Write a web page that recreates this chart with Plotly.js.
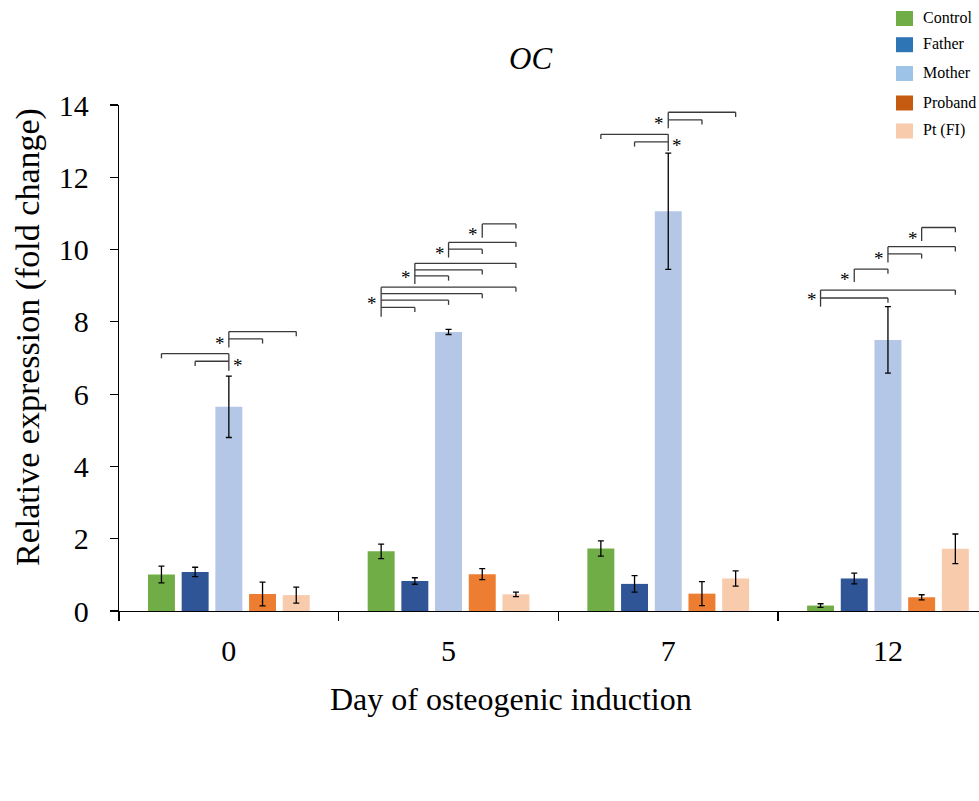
<!DOCTYPE html>
<html>
<head>
<meta charset="utf-8">
<script src="https://cdn.plot.ly/plotly-3.0.1.min.js"></script>
<style>
  html, body { margin: 0; padding: 0; background: #fff; }
  #chart { width: 979px; height: 801px; }
</style>
</head>
<body>
<div id="chart"></div>
<script>
// ---- Data ----
const days = ['0', '5', '7', '12'];
const seriesNames = ['Control', 'Father', 'Mother', 'Proband', 'Pt (FI)'];

const control    = [1.01, 1.65, 1.73, 0.15];
const controlErr = [0.23, 0.20, 0.21, 0.05];
const father     = [1.08, 0.83, 0.75, 0.90];
const fatherErr  = [0.13, 0.09, 0.23, 0.15];
const mother     = [5.65, 7.72, 11.06, 7.50];
const motherErr  = [0.85, 0.07, 1.61, 0.92];
const proband    = [0.47, 1.02, 0.48, 0.38];
const probandErr = [0.33, 0.15, 0.33, 0.07];
const ptFI       = [0.44, 0.46, 0.90, 1.72];
const ptFIErr    = [0.22, 0.06, 0.21, 0.41];

const chartTitle = 'OC';
const xTitle = 'Day of osteogenic induction';
const yTitle = 'Relative expression (fold change)';

// significance brackets: [day index, pivot series, pivot bottom, [[target series, bracket height], ...], star side, star height]
const brackets = [
  [0, 2, 6.65,  [[0, 7.12], [1, 6.91]], 1, 6.90],
  [0, 2, 7.29,  [[3, 7.53], [4, 7.73]], -1, 7.50],
  [1, 0, 8.14,  [[1, 8.40], [2, 8.60], [3, 8.78], [4, 8.96]], -1, 8.61],
  [1, 1, 9.05,  [[2, 9.27], [3, 9.44], [4, 9.62]], -1, 9.33],
  [1, 2, 9.78,  [[3, 10.01], [4, 10.20]], -1, 10.01],
  [1, 3, 10.33, [[4, 10.71]], -1, 10.52],
  [2, 2, 12.73, [[0, 13.19], [1, 12.98]], 1, 12.98],
  [2, 2, 13.36, [[3, 13.59], [4, 13.80]], -1, 13.59],
  [3, 0, 8.42,  [[2, 8.66], [4, 8.88]], -1, 8.72],
  [3, 1, 9.10,  [[2, 9.46]], -1, 9.28],
  [3, 2, 9.64,  [[3, 9.88], [4, 10.08]], -1, 9.87],
  [3, 3, 10.24, [[4, 10.61]], -1, 10.42]
];

// ---- Styles ----
const values = [control, father, mother, proband, ptFI];
const errors = [controlErr, fatherErr, motherErr, probandErr, ptFIErr];
const barColors = ['#70AD47', '#2F5597', '#B4C7E7', '#ED7D31', '#F8CBAD'];
const legendColors = ['#70AD47', '#2E75B6', '#9DC3E6', '#C55A11', '#F8CBAD'];
const FONT = 'Liberation Serif';

const W = 979, H = 801;
const M = { l: 119, r: 0, t: 105, b: 190 };
const bargap = 0.233;
const slot = (1 - bargap) / seriesNames.length;
const plotW = W - M.l - M.r, plotH = H - M.t - M.b;
const catPx = 219.7;
const xRange = [-0.5, -0.5 + plotW / catPx];

const traces = seriesNames.map((name, i) => ({
  type: 'bar',
  name: name,
  x: days,
  y: values[i],
  marker: { color: barColors[i], line: { width: 0 } },
  error_y: { type: 'data', array: errors[i], visible: true, color: '#000', thickness: 1.3, width: 3 },
  showlegend: false,
  hoverinfo: 'x+y+name'
}));

function barX(g, j) { return g + (j - 2) * slot; }

const shapes = [];
const annotations = [];
const tickDown = 0.13;
const lineStyle = { color: '#3a3a3a', width: 1.3 };

brackets.forEach(([g, p, bottom, targets, side, starY]) => {
  const px = barX(g, p);
  let top = bottom;
  targets.forEach(([t, h]) => {
    const tx = barX(g, t);
    top = Math.max(top, h);
    shapes.push({ type: 'line', xref: 'x', yref: 'y', x0: px, x1: tx, y0: h, y1: h, line: lineStyle });
    shapes.push({ type: 'line', xref: 'x', yref: 'y', x0: tx, x1: tx, y0: h, y1: h - tickDown, line: lineStyle });
  });
  shapes.push({ type: 'line', xref: 'x', yref: 'y', x0: px, x1: px, y0: bottom, y1: top, line: lineStyle });
  annotations.push({
    xref: 'x', yref: 'y', x: px, y: starY, text: '*', showarrow: false,
    xanchor: side > 0 ? 'left' : 'right', xshift: side * 2, yshift: -4,
    font: { family: FONT, size: 19, color: '#000' }
  });
});

const toPaperX = px => (px - M.l) / plotW;
const toPaperY = py => (H - M.b - py) / plotH;

// manual legend (above plot area, top right)
const legendRowsPx = [18.5, 44.7, 73.5, 103, 131];
seriesNames.forEach((name, i) => {
  const cy = legendRowsPx[i];
  shapes.push({
    type: 'rect', xref: 'paper', yref: 'paper',
    x0: toPaperX(896), x1: toPaperX(913), y0: toPaperY(cy + 7.5), y1: toPaperY(cy - 7.5),
    fillcolor: legendColors[i], line: { width: 0 }
  });
  annotations.push({
    xref: 'paper', yref: 'paper', x: toPaperX(921), y: toPaperY(cy - 1),
    xanchor: 'left', yanchor: 'middle', text: name, showarrow: false,
    font: { family: FONT, size: 16, color: '#000' }
  });
});

// chart title and axis titles
annotations.push({
  xref: 'paper', yref: 'paper', x: toPaperX(530), y: toPaperY(58),
  xanchor: 'center', yanchor: 'middle', text: '<i>' + chartTitle + '</i>', showarrow: false,
  font: { family: FONT, size: 31, color: '#000' }
});
annotations.push({
  xref: 'paper', yref: 'paper', x: toPaperX(511), y: toPaperY(699),
  xanchor: 'center', yanchor: 'middle', text: xTitle, showarrow: false,
  font: { family: FONT, size: 32, color: '#000' }
});
annotations.push({
  xref: 'paper', yref: 'paper', x: toPaperX(28), y: toPaperY(337),
  xanchor: 'center', yanchor: 'middle', text: yTitle, showarrow: false, textangle: -90,
  font: { family: FONT, size: 34, color: '#000' }
});

const layout = {
  width: W, height: H,
  margin: M,
  paper_bgcolor: '#fff', plot_bgcolor: '#fff',
  font: { family: FONT, color: '#000' },
  barmode: 'group', bargap: bargap, bargroupgap: 0.2,
  showlegend: false,
  xaxis: {
    type: 'category', range: xRange, tickson: 'boundaries',
    showline: true, linecolor: '#000', linewidth: 1.2,
    ticks: 'outside', ticklen: 9, tickcolor: '#000', tickwidth: 1.2,
    showgrid: false, zeroline: false,
    tickfont: { family: FONT, size: 30, color: '#000' }, ticklabelstandoff: 13,
    fixedrange: true
  },
  yaxis: {
    range: [0, 14], dtick: 2, tick0: 0,
    showline: true, linecolor: '#000', linewidth: 1.2,
    ticks: 'outside', ticklen: 8, tickcolor: '#000', tickwidth: 1.2,
    showgrid: false, zeroline: false,
    tickfont: { family: FONT, size: 30, color: '#000' }, ticklabelstandoff: 15,
    fixedrange: true
  },
  shapes: shapes,
  annotations: annotations
};

Plotly.newPlot('chart', traces, layout, { displayModeBar: false, staticPlot: true });
</script>
</body>
</html>
